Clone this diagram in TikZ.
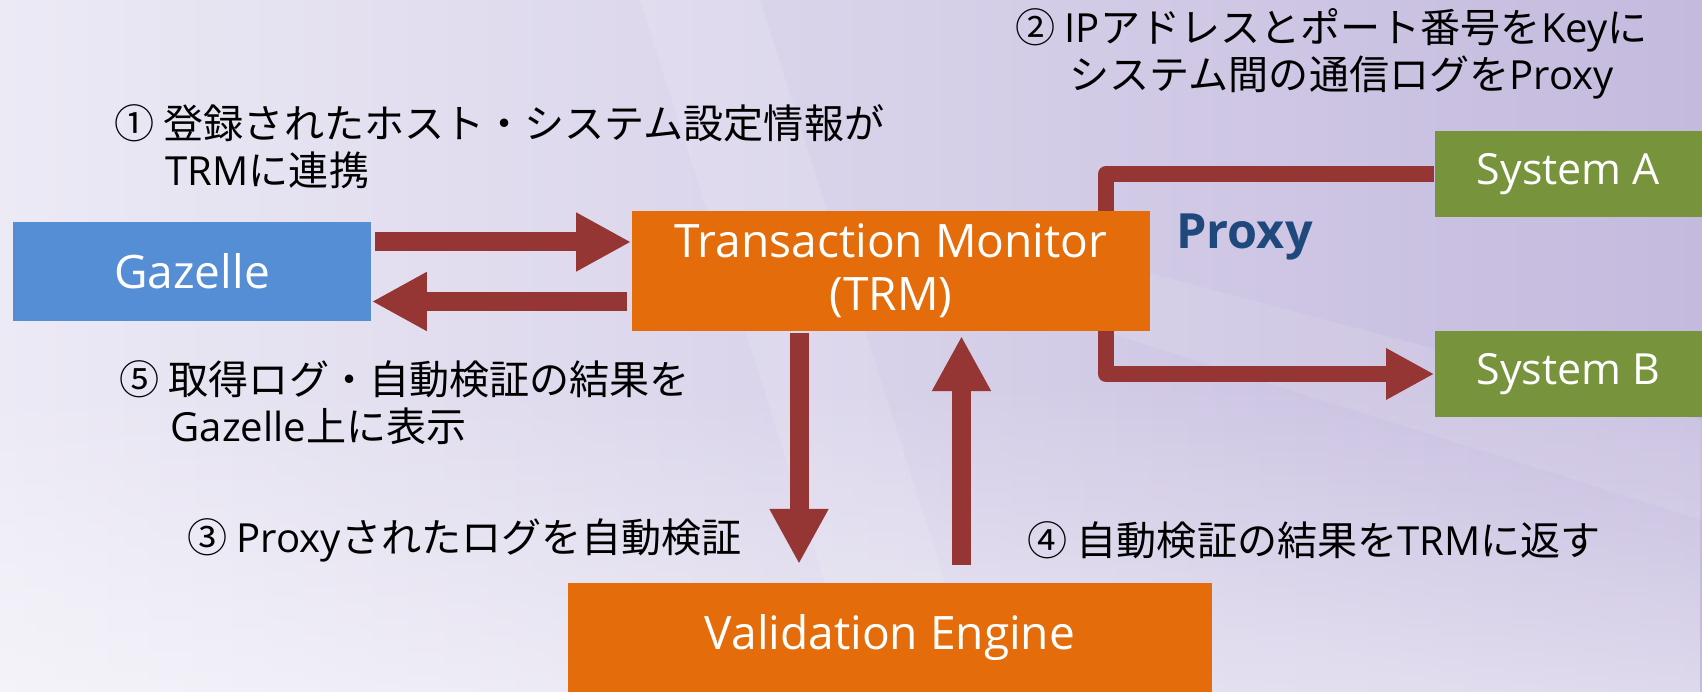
\documentclass[tikz,border=0pt]{standalone}
\usepackage{fontspec}
\setmainfont{Noto Sans CJK JP}
\newfontfamily\lat{Open Sans}
\usetikzlibrary{arrows.meta,fadings}
\definecolor{arrowred}{RGB}{150,54,52}
\definecolor{gazblue}{RGB}{85,142,213}
\definecolor{trmorange}{RGB}{228,108,10}
\definecolor{sysgreen}{RGB}{119,147,60}
\definecolor{proxyblue}{RGB}{31,73,125}
\definecolor{bgL}{RGB}{236,234,245}
\definecolor{bgR}{RGB}{196,186,222}
\tikzset{
  box/.style={rectangle, inner sep=0pt, text=white, align=center,
    font=\lat\fontsize{13.1}{15.1}\selectfont},
  note/.style={anchor=west, inner sep=0pt, align=left, text=black,
    font=\fontsize{11.4}{13.4}\selectfont},
  blockarrow/.style={draw=arrowred, line width=0.19cm,
    -{Triangle[length=0.55cm,width=0.55cm]}},
  proxyline/.style={draw=arrowred, line width=0.16cm, line join=round,
    -{Triangle[length=0.48cm,width=0.48cm]}}
}
\begin{document}
\begin{tikzpicture}[x=0.01cm, y=-0.01cm]
\useasboundingbox (0,0) rectangle (1702,692);
% background
\shade[left color=bgL, right color=bgR] (0,0) rectangle (1702,692);
\fill[white, opacity=0.45, path fading=north] (0,380) rectangle (1702,692);
\fill[white, opacity=0.12] (640,0) -- (760,0) -- (980,692) -- (860,692) -- cycle;
\fill[white, opacity=0.10] (1100,260) -- (1702,420) -- (1702,520) -- (1100,330) -- cycle;
% system boxes and proxy connector
\node[box, fill=sysgreen, minimum width=2.67cm, minimum height=0.86cm,
  font=\lat\fontsize{12.2}{14}\selectfont] (sysa) at (1568.5,174) {System A};
\node[box, fill=sysgreen, minimum width=2.67cm, minimum height=0.86cm,
  font=\lat\fontsize{12.2}{14}\selectfont] (sysb) at (1568.5,374) {System B};
\coordinate (pv) at (1106,0);
\draw[proxyline] (sysa.west) -- (pv |- sysa.west) -- (pv |- sysb.west) -- (sysb.west);
% main boxes
\node[box, fill=gazblue, minimum width=3.58cm, minimum height=0.99cm] (gaz) at (192,271.5) {Gazelle};
\node[box, fill=trmorange, minimum width=5.18cm, minimum height=1.2cm] (trm) at (891,271) {Transaction Monitor\\(TRM)};
\node[box, fill=trmorange, minimum width=6.44cm, minimum height=1.09cm] (val) at (890,637.5) {Validation Engine};
\node[inner sep=0pt, text=proxyblue, font=\lat\bfseries\fontsize{13.8}{16}\selectfont] (proxy) at (1244.5,237) {Proxy};
% arrows
\coordinate (a1s) at (375,242);
\draw[blockarrow] (a1s) -- (a1s -| trm.west);
\coordinate (a2s) at (627,301.5);
\draw[blockarrow] (a2s) -- (a2s -| gaz.east);
\coordinate (a3s) at (799,333);
\coordinate (a3e) at (799,564);
\draw[blockarrow] (a3s) -- (a3e);
\coordinate (a4s) at (961.5,565);
\coordinate (a4e) at (961.5,336);
\draw[blockarrow] (a4s) -- (a4e);
% notes
\node[note] (n1) at (114,147) {① 登録されたホスト・システム設定情報が\\\hspace*{0.51cm}{\lat TRM}に連携};
\node[note] (n2) at (1015,54) {② {\lat IP}アドレスとポート番号を{\lat Key}に\\\hspace*{0.54cm}システム間の通信ログを{\lat Proxy}};
\node[note] (n5) at (119,403) {⑤ 取得ログ・自動検証の結果を\\\hspace*{0.51cm}{\lat Gazelle}上に表示};
\node[note] (n3) at (187,540) {③ {\lat Proxy}されたログを自動検証};
\node[note] (n4) at (1027,540) {④ 自動検証の結果を{\lat TRM}に返す};
\end{tikzpicture}
\end{document}
